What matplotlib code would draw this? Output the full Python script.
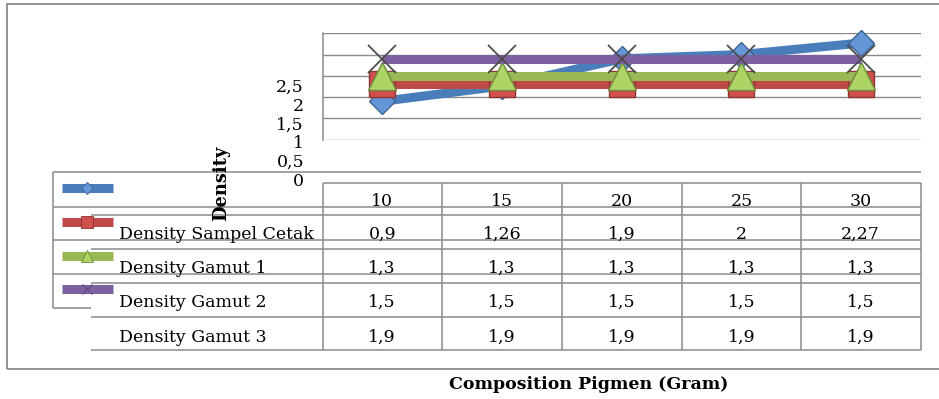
import matplotlib
matplotlib.use("Agg")
import matplotlib.pyplot as plt
from matplotlib.lines import Line2D
from matplotlib.patches import Rectangle

# ---------------- data ----------------
categories = [10, 15, 20, 25, 30]
sampel_cetak = [0.9, 1.26, 1.9, 2, 2.27]
gamut_1 = [1.3, 1.3, 1.3, 1.3, 1.3]
gamut_2 = [1.5, 1.5, 1.5, 1.5, 1.5]
gamut_3 = [1.9, 1.9, 1.9, 1.9, 1.9]
row_labels = ["Density Sampel Cetak", "Density Gamut 1", "Density Gamut 2", "Density Gamut 3"]
y_ticks = [0, 0.5, 1, 1.5, 2, 2.5]
x_title = "Composition Pigmen (Gram)"
y_title = "Density"

# ---------------- style ----------------
W, H = 939, 399
FONT = "DejaVu Serif"
FS = 12.5
GRAY = "#8a8a8a"
plt.rcParams["font.family"] = [FONT, "DejaVu Sans"]

fig = plt.figure(figsize=(W / 100, H / 100), dpi=100)


def fx(x):
    return x / W


def fy(y):
    return 1 - y / H


def hline(x0, x1, y, lw=1.1, color=GRAY):
    fig.add_artist(Line2D([fx(x0), fx(x1)], [fy(y), fy(y)], transform=fig.transFigure,
                          color=color, lw=lw, solid_capstyle="butt"))


def vline(x, y0, y1, lw=1.1, color=GRAY):
    fig.add_artist(Line2D([fx(x), fx(x)], [fy(y0), fy(y1)], transform=fig.transFigure,
                          color=color, lw=lw, solid_capstyle="butt"))


def fmt(v):
    return f"{v:g}".replace(".", ",")


# outer chart border (right side clipped like the reference)
fig.add_artist(Rectangle((fx(7), fy(369)), fx(960) - fx(7), fy(4) - fy(369),
                         transform=fig.transFigure, fill=False, edgecolor=GRAY, lw=1.3))

# ---------------- plot area ----------------
L, R, T, B = 322.5, 920.5, 33.3, 139.6
ax = fig.add_axes([fx(L), fy(B), fx(R) - fx(L), fy(T) - fy(B)])
ax.set_xlim(-0.5, len(categories) - 0.5)
ax.set_ylim(0, 2.5)
ax.set_yticks(y_ticks)
ax.set_xticks([])
ax.tick_params(axis="y", length=0, labelleft=False)
for s in ["top", "right", "bottom"]:
    ax.spines[s].set_visible(False)
ax.spines["left"].set_color(GRAY)
ax.spines["left"].set_linewidth(1.1)
ax.yaxis.grid(True, color=GRAY, lw=1.0)
ax.set_axisbelow(True)
ax.patch.set_alpha(0)

xs = list(range(len(categories)))
LW = 6.5
series = [
    (sampel_cetak, "#4A7EBB", dict(marker="D", ms=13.5, mfc="#6596D6", mec="#3B6496", mew=1.0)),
    (gamut_1, "#BE4B48", dict(marker="s", ms=19, mfc="#D0504D", mec="#8C3634", mew=1.0)),
    (gamut_2, "#98B954", dict(marker="^", ms=19.5, mfc="#AFD466", mec="#6E8C3A", mew=1.0)),
    (gamut_3, "#7D60A0", dict(marker="x", ms=19.5, mec="#4d4d4d", mew=1.3)),
]
for i, (vals, col, mk) in enumerate(series):
    ax.plot(xs, vals, color=col, lw=LW, zorder=3 + i, clip_on=False,
            solid_capstyle="butt", **mk)

# ---------------- y tick labels (compressed, as in reference) ----------------
tk = fig.add_axes([fx(304), fy(179), 0.001, fy(85.5) - fy(179)])
tk.set_ylim(0, 2.5)
tk.set_yticks(y_ticks)
tk.set_yticklabels([fmt(v) for v in y_ticks])
tk.set_xticks([])
tk.set_frame_on(False)
tk.tick_params(axis="y", length=0, pad=0, labelsize=FS)
tk.patch.set_alpha(0)

# ---------------- legend box ----------------
LEG_L = 53
hline(LEG_L, 920.5, 171.5)
hline(LEG_L, 920.5, 206.7)
hline(LEG_L, 920.5, 240.0)
hline(LEG_L, 920.5, 273.5)
hline(LEG_L, 91, 307.5)
vline(LEG_L, 171.5, 307.5)

key_y = [187.7, 221.7, 255.7, 289.3]
key_mk = [
    dict(marker="D", ms=6, mfc="#6596D6", mec="#3B6496", mew=0.6),
    dict(marker="s", ms=9, mfc="#D0504D", mec="#8C3634", mew=0.6),
    dict(marker="^", ms=8, mfc="#AFD466", mec="#6E8C3A", mew=0.6),
    dict(marker="x", ms=7, mec="#6a5090", mew=1.0),
]
for (vals, col, mk), ky, km in zip(series, key_y, key_mk):
    fig.add_artist(Line2D([fx(61.5), fx(87), fx(112.5)], [fy(ky)] * 3,
                          transform=fig.transFigure, color=col, lw=LW,
                          solid_capstyle="butt", markevery=[1], **km))

# ---------------- data table ----------------
col_edges = [322.5, 442, 562, 682, 801, 920.5]
hline(322.5, 920.5, 183.3)
for y in [215.0, 248.5, 282.5, 316.7, 350.0]:
    hline(91, 920.5, y)
for x in col_edges:
    vline(x, 183.3, 350.0)

centers = [(col_edges[i] + col_edges[i + 1]) / 2 for i in range(len(categories))]
header_base = 205.5
row_base = [239.0, 273.0, 306.8, 341.5]
for c, cat in zip(centers, categories):
    fig.text(fx(c), fy(header_base), str(cat), ha="center", va="baseline", fontsize=FS)
rows = [sampel_cetak, gamut_1, gamut_2, gamut_3]
for lbl, vals, yb in zip(row_labels, rows, row_base):
    fig.text(fx(119), fy(yb), lbl, ha="left", va="baseline", fontsize=FS)
    for c, v in zip(centers, vals):
        fig.text(fx(c), fy(yb), fmt(v), ha="center", va="baseline", fontsize=FS)

# ---------------- titles ----------------
fig.text(fx(221.5), fy(183.5), y_title, rotation=90, ha="center", va="center",
         fontsize=12.9, fontweight="bold")
fig.text(fx(589), fy(384.5), x_title, ha="center", va="center",
         fontsize=12.5, fontweight="bold")

fig.savefig("out.png", dpi=100)
